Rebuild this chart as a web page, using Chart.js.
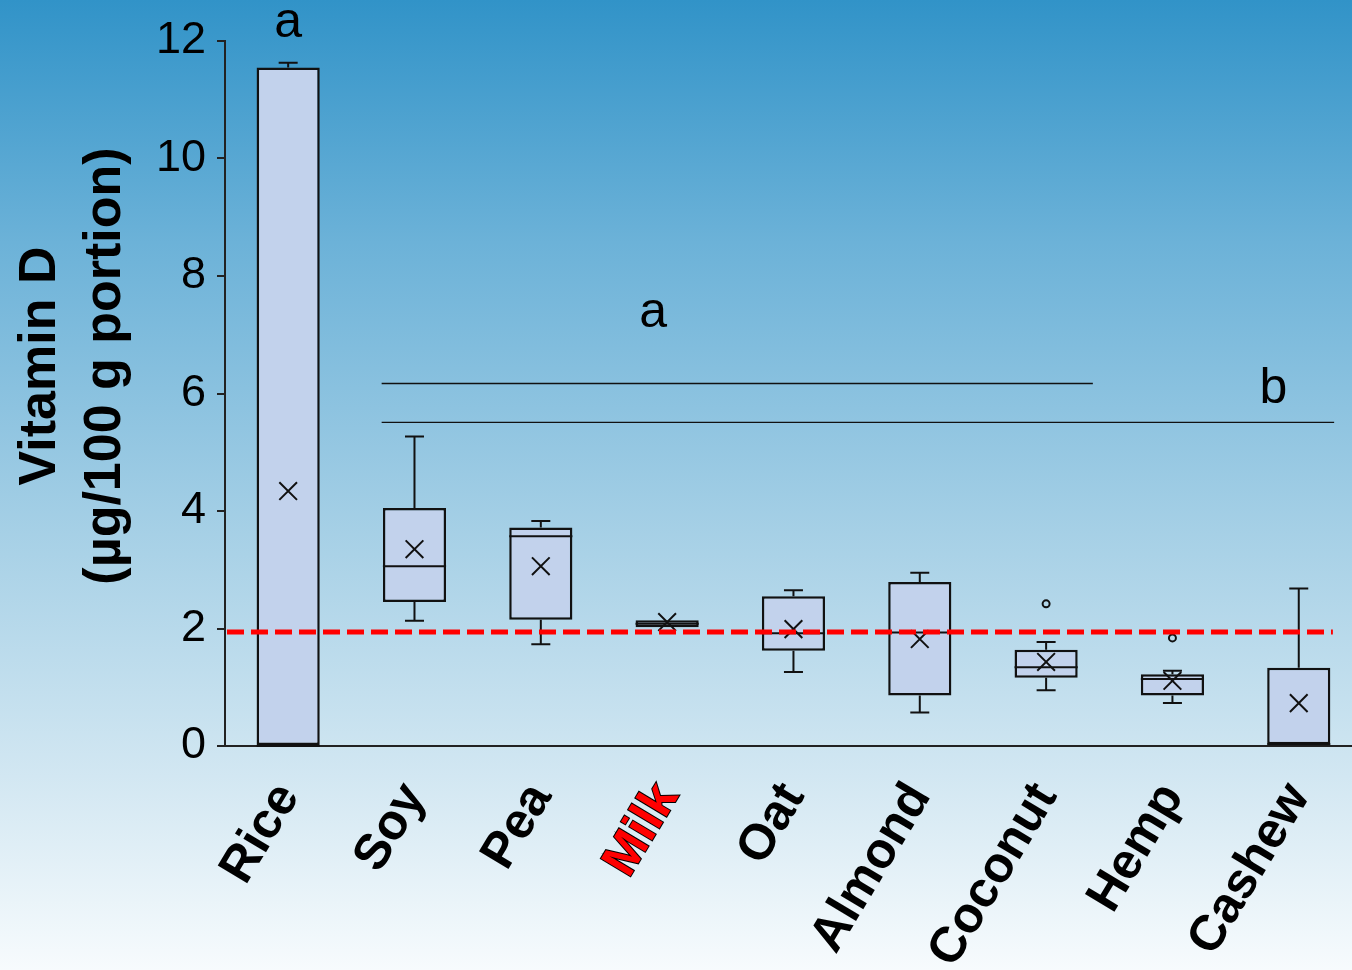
<!DOCTYPE html>
<html>
<head>
<meta charset="utf-8">
<title>Vitamin D in plant-based milks</title>
<script src="https://cdn.jsdelivr.net/npm/chart.js@4.4.0/dist/chart.umd.min.js"></script>
<style>
  html, body { margin: 0; padding: 0; overflow: hidden; }
  body {
    width: 1352px; height: 970px;
    background: linear-gradient(to bottom, #3193c8 0%, #6cb2d8 25%, #a6d0e6 55%, #d2e7f2 80%, #f7fbfd 100%);
  }
  canvas { display: block; }
</style>
</head>
<body>
<canvas id="chart" width="1378" height="970"></canvas>
<script>
// box plot values per drink (µg / 100 g)
const categories = ["Rice", "Soy", "Pea", "Milk", "Oat", "Almond", "Coconut", "Hemp", "Cashew"];
const whiskerLow = [0, 2.13, 1.73, 2.02, 1.26, 0.57, 0.95, 0.73, 0.03];
const q1 = [0, 2.45, 2.15, 2.02, 1.62, 0.86, 1.16, 0.86, 0.03];
const median = [0, 3.06, 3.57, 2.08, 1.92, 1.93, 1.34, 1.14, 0.03];
const q3 = [11.55, 4.05, 3.72, 2.14, 2.55, 2.79, 1.64, 1.22, 1.33];
const whiskerHigh = [11.63, 5.27, 3.83, 2.14, 2.65, 2.95, 1.77, 1.28, 2.68];
const means = [4.34, 3.35, 3.06, 2.11, 1.99, 1.82, 1.43, 1.11, 0.73];
const outliers = [null, null, null, null, null, null, 2.42, 1.84, null];

const yTicks = [0, 2, 4, 6, 8, 10, 12];
const refLine = 1.94; // dashed red reference (cow milk level)

// significance letters and bars (x in category index units)
const sigLetters = ["a", "a", "b"];
const sigLetterX = [0, 2.89, 7.8];
const sigLetterY = [12.06, 7.13, 5.83];
const sigBarY = [6.17, 5.51];
const sigBarFrom = [0.74, 0.74];
const sigBarTo = [6.37, 8.28];

const FONT = "'Liberation Sans', Arial, sans-serif";

const boxParts = {
  id: "boxParts",
  afterDatasetDraw(chart, args) {
    if (args.index !== 0) return;
    const ctx = chart.ctx;
    const x = chart.scales.x, y = chart.scales.y;
    const half = x.getPixelForValue(1) - x.getPixelForValue(0);
    const boxHalf = half * 0.25;
    const cap = 9.5;
    ctx.save();
    ctx.strokeStyle = "#111";
    ctx.lineWidth = 2;
    categories.forEach((c, i) => {
      const cx = x.getPixelForValue(i);
      // median
      ctx.beginPath();
      ctx.moveTo(cx - boxHalf, y.getPixelForValue(median[i]));
      ctx.lineTo(cx + boxHalf, y.getPixelForValue(median[i]));
      ctx.stroke();
      // whiskers
      if (whiskerHigh[i] > q3[i]) {
        const t = y.getPixelForValue(whiskerHigh[i]);
        ctx.beginPath();
        ctx.moveTo(cx, y.getPixelForValue(q3[i]));
        ctx.lineTo(cx, t);
        ctx.moveTo(cx - cap, t);
        ctx.lineTo(cx + cap, t);
        ctx.stroke();
      }
      if (whiskerLow[i] < q1[i]) {
        const b = y.getPixelForValue(whiskerLow[i]);
        ctx.beginPath();
        ctx.moveTo(cx, y.getPixelForValue(q1[i]));
        ctx.lineTo(cx, b);
        ctx.moveTo(cx - cap, b);
        ctx.lineTo(cx + cap, b);
        ctx.stroke();
      }
    });
    ctx.restore();
  },
  afterDatasetsDraw(chart) {
    const ctx = chart.ctx;
    const x = chart.scales.x, y = chart.scales.y;
    ctx.save();
    // significance bars
    ctx.strokeStyle = "#111";
    ctx.lineWidth = 1.3;
    sigBarY.forEach((v, i) => {
      const py = y.getPixelForValue(v);
      ctx.beginPath();
      ctx.moveTo(x.getPixelForValue(sigBarFrom[i]), py);
      ctx.lineTo(x.getPixelForValue(sigBarTo[i]), py);
      ctx.stroke();
    });
    // red reference line
    const ry = y.getPixelForValue(refLine);
    ctx.strokeStyle = "#ff0000";
    ctx.lineWidth = 5;
    ctx.setLineDash([17, 7]);
    ctx.beginPath();
    ctx.moveTo(chart.chartArea.left + 2, ry);
    ctx.lineTo(x.getPixelForValue(8.27), ry);
    ctx.stroke();
    ctx.restore();
  },
  afterDraw(chart) {
    const ctx = chart.ctx;
    const x = chart.scales.x, y = chart.scales.y;
    ctx.save();
    ctx.fillStyle = "#000";
    ctx.textAlign = "center";
    ctx.textBaseline = "alphabetic";
    ctx.font = "50px " + FONT;
    sigLetters.forEach((s, i) => {
      ctx.fillText(s, x.getPixelForValue(sigLetterX[i]), y.getPixelForValue(sigLetterY[i]));
    });
    // y axis title
    ctx.font = "bold 52px " + FONT;
    const midY = 366;
    ["Vitamin D", "(µg/100 g portion)"].forEach((line, i) => {
      ctx.save();
      ctx.translate(55 + i * 65, midY);
      ctx.rotate(-Math.PI / 2);
      ctx.fillText(line, 0, 0);
      ctx.restore();
    });
    ctx.restore();
  }
};

new Chart(document.getElementById("chart"), {
  type: "bar",
  data: {
    labels: categories,
    datasets: [
      {
        label: "IQR",
        data: q1.map((v, i) => [v, q3[i]]),
        backgroundColor: "#c2d2ec",
        borderColor: "#111",
        borderWidth: 2.5,
        borderSkipped: false,
        barPercentage: 0.5,
        categoryPercentage: 1,
        order: 2
      },
      {
        type: "line",
        label: "Outliers",
        data: outliers,
        showLine: false,
        pointStyle: "circle",
        pointRadius: 3.5,
        pointBorderWidth: 2,
        pointBorderColor: "#111",
        pointBackgroundColor: "rgba(0,0,0,0)",
        order: 1
      },
      {
        type: "line",
        label: "Mean",
        data: means,
        showLine: false,
        pointStyle: "crossRot",
        pointRadius: 12.5,
        pointBorderWidth: 2,
        pointBorderColor: "#111",
        order: 0
      }
    ]
  },
  options: {
    responsive: false,
    animation: false,
    devicePixelRatio: 1,
    layout: { padding: { top: 41, right: 0, bottom: 0, left: 0 } },
    plugins: { legend: { display: false }, tooltip: { enabled: false } },
    scales: {
      x: {
        offset: true,
        grid: { display: false, drawTicks: false },
        border: { display: true, color: "#222", width: 2 },
        ticks: {
          autoSkip: false,
          minRotation: 59,
          maxRotation: 59,
          padding: 27,
          font: { family: FONT, size: 50, weight: "bold" },
          color: c => (c.index === 3 ? "#ff0000" : "#000"),
          textStrokeColor: c => (c.index === 3 ? "#000" : "rgba(0,0,0,0)"),
          textStrokeWidth: c => (c.index === 3 ? 2 : 0)
        },
        afterFit: s => { s.height = 224; }
      },
      y: {
        min: 0,
        max: 12,
        afterBuildTicks: s => { s.ticks = yTicks.map(v => ({ value: v })); },
        grid: { display: true, drawOnChartArea: false, drawTicks: true, tickLength: 8, color: "#222", lineWidth: 2 },
        border: { display: true, color: "#222", width: 2 },
        ticks: {
          padding: 11,
          font: { family: FONT, size: 45 },
          color: "#000"
        },
        afterFit: s => { s.width = 225; }
      }
    }
  },
  plugins: [boxParts]
});
</script>
</body>
</html>
